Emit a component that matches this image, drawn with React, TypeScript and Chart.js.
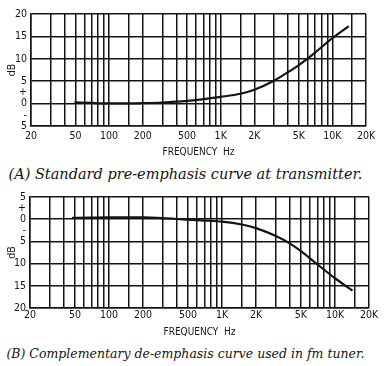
import React, { useEffect, useRef } from "react";
import { Chart, registerables } from "chart.js";

Chart.register(...registerables);

// Chart A: pre-emphasis
const freqA = [49, 70, 100, 150, 200, 300, 500, 700, 1000, 1500, 2000, 3000, 4000, 5000, 7000, 10000, 14000];
const dbA = [0.3, 0.15, 0.05, 0.05, 0.1, 0.25, 0.6, 1.0, 1.5, 2.2, 3.1, 5.1, 7.0, 8.6, 11.4, 14.6, 17.3];

// Chart B: de-emphasis
const freqB = [47, 70, 100, 200, 300, 500, 700, 1000, 1500, 2000, 3000, 4000, 5000, 7000, 10000, 14300];
const dbB = [0.3, 0.35, 0.4, 0.4, 0.25, -0.12, -0.3, -0.55, -1.2, -2.0, -3.8, -5.5, -7.2, -10.2, -13.3, -16.1];

const xLabelValues = [20, 50, 100, 200, 500, 1000, 2000, 5000, 10000, 20000];
const xLabelTexts = ["20", "50", "100", "200", "500", "1K", "2K", "5K", "10K", "20K"];

const captionA = "(A) Standard pre-emphasis curve at transmitter.";
const captionB = "(B) Complementary de-emphasis curve used in fm tuner.";
const xTitle = "FREQUENCY  Hz";
const yTitle = "dB";

const TICK_FONT = { family: "'Liberation Sans Narrow', 'DejaVu Sans Condensed', 'Liberation Sans', sans-serif", size: 10.5 };
const INK = "#141414";

function makeConfig(
  freq: number[],
  db: number[],
  yMin: number,
  yMax: number,
  pad: { top: number; right: number; bottom: number },
  xHeight: number,
  xTickPad: number,
  yWidth: number
): any {
  return {
    type: "line",
    data: {
      datasets: [
        {
          data: freq.map((f, i) => ({ x: f, y: db[i] })),
          borderColor: INK,
          borderWidth: 2.2,
          pointRadius: 0,
          cubicInterpolationMode: "monotone",
          fill: false,
        },
      ],
    },
    options: {
      animation: false,
      responsive: false,
      maintainAspectRatio: false,
      layout: { padding: { left: 0, top: pad.top, right: pad.right, bottom: pad.bottom } },
      plugins: { legend: { display: false }, tooltip: { enabled: false } },
      scales: {
        x: {
          type: "logarithmic",
          min: 20,
          max: 20000,
          afterFit: (s: any) => {
            s.height = xHeight;
          },
          border: { display: true, color: INK, width: 1.5 },
          grid: {
            drawTicks: false,
            color: INK,
            lineWidth: 1.5,
          },
          ticks: {
            autoSkip: false,
            maxRotation: 0,
            minRotation: 0,
            padding: xTickPad,
            color: INK,
            font: TICK_FONT,
            callback: (v: any) => {
              const val = Number(v);
              const idx = xLabelValues.findIndex((t) => Math.abs(t - val) < 1e-6 * t);
              return idx >= 0 ? xLabelTexts[idx] : "";
            },
          },
          title: {
            display: true,
            text: xTitle,
            color: INK,
            font: { family: TICK_FONT.family, size: 10 },
            padding: { top: 0, bottom: 2 },
          },
        },
        y: {
          type: "linear",
          min: yMin,
          max: yMax,
          afterFit: (s: any) => {
            s.width = yWidth;
          },
          border: { display: true, color: INK, width: 1.5 },
          grid: {
            drawTicks: false,
            lineWidth: 1.5,
            color: (ctx: any) => {
              const v = ctx.tick ? ctx.tick.value : 0;
              return Math.abs(v % 5) < 1e-6 ? INK : "rgba(0,0,0,0)";
            },
          },
          ticks: {
            stepSize: 2.5,
            padding: 4,
            color: INK,
            font: TICK_FONT,
            autoSkip: false,
            callback: (v: any) => {
              const val = Number(v);
              if (Math.abs(val - 2.5) < 1e-6) return "+";
              if (Math.abs(val + 2.5) < 1e-6) return "-";
              if (Math.abs(val % 5) > 1e-6) return "";
              return String(Math.abs(val));
            },
          },
          title: {
            display: true,
            text: yTitle,
            color: INK,
            font: { family: TICK_FONT.family, size: 10.5 },
            padding: { top: 6, bottom: 0 },
          },
        },
      },
    },
  };
}

function ChartCanvas(props: { config: any; top: number; height: number }) {
  const ref = useRef<HTMLCanvasElement | null>(null);
  useEffect(() => {
    if (!ref.current) return;
    const chart = new Chart(ref.current, props.config);
    return () => chart.destroy();
  }, []);
  return (
    <canvas
      ref={ref}
      width={387}
      height={props.height}
      style={{ position: "absolute", left: 0, top: props.top, width: 387, height: props.height }}
    />
  );
}

const captionStyle = (top: number, size: number): React.CSSProperties => ({
  position: "absolute",
  left: 0,
  top,
  width: 371,
  textAlign: "center",
  fontFamily: "'DejaVu Serif', serif",
  fontStyle: "italic",
  fontSize: size,
  lineHeight: "18px",
  whiteSpace: "nowrap",
  color: INK,
});

export default function App() {
  useEffect(() => {
    document.body.style.margin = "0";
  }, []);
  const cfgA = makeConfig(freqA, dbA, -5, 20, { top: 14, right: 21, bottom: 0 }, 34, 4, 31);
  const cfgB = makeConfig(freqB, dbB, -20, 5, { top: 17, right: 18, bottom: 0 }, 32, 1, 30);
  return (
    <div style={{ position: "relative", width: 387, height: 366, background: "#fff", overflow: "hidden" }}>
      <ChartCanvas config={cfgA} top={0} height={160} />
      <div style={captionStyle(165, 14.5)}>{captionA}</div>
      <ChartCanvas config={cfgB} top={180} height={160} />
      <div style={captionStyle(345, 12.5)}>{captionB}</div>
    </div>
  );
}
